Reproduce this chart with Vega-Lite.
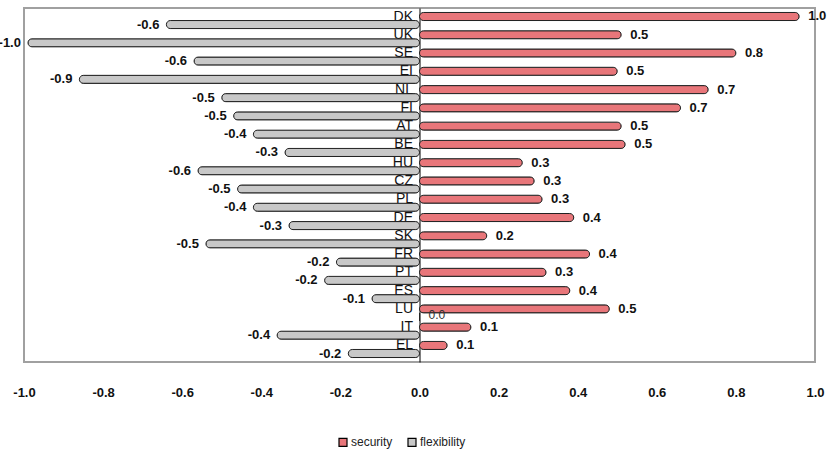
{
  "$schema": "https://vega.github.io/schema/vega-lite/v6.json",
  "width": 791,
  "height": 354,
  "autosize": {"type": "none"},
  "padding": {"left": 24, "top": 8, "right": 18, "bottom": 104},
  "background": "white",
  "config": {
    "view": {"stroke": "#a0a0a0", "strokeWidth": 2},
    "font": "Liberation Sans",
    "locale": {
      "number": {"decimal": ".", "thousands": ",", "grouping": [3], "currency": ["$", ""], "minus": "-"}
    }
  },
  "data": {
    "values": [
      {"country": "DK", "series": "security", "value": 0.96},
      {"country": "UK", "series": "security", "value": 0.51},
      {"country": "SE", "series": "security", "value": 0.8},
      {"country": "EI", "series": "security", "value": 0.5},
      {"country": "NL", "series": "security", "value": 0.73},
      {"country": "FI", "series": "security", "value": 0.66},
      {"country": "AT", "series": "security", "value": 0.51},
      {"country": "BE", "series": "security", "value": 0.52},
      {"country": "HU", "series": "security", "value": 0.26},
      {"country": "CZ", "series": "security", "value": 0.29},
      {"country": "PL", "series": "security", "value": 0.31},
      {"country": "DE", "series": "security", "value": 0.39},
      {"country": "SK", "series": "security", "value": 0.17},
      {"country": "FR", "series": "security", "value": 0.43},
      {"country": "PT", "series": "security", "value": 0.32},
      {"country": "ES", "series": "security", "value": 0.38},
      {"country": "LU", "series": "security", "value": 0.48},
      {"country": "IT", "series": "security", "value": 0.13},
      {"country": "EL", "series": "security", "value": 0.07},
      {"country": "DK", "series": "flexibility", "value": -0.64},
      {"country": "UK", "series": "flexibility", "value": -0.99},
      {"country": "SE", "series": "flexibility", "value": -0.57},
      {"country": "EI", "series": "flexibility", "value": -0.86},
      {"country": "NL", "series": "flexibility", "value": -0.5},
      {"country": "FI", "series": "flexibility", "value": -0.47},
      {"country": "AT", "series": "flexibility", "value": -0.42},
      {"country": "BE", "series": "flexibility", "value": -0.34},
      {"country": "HU", "series": "flexibility", "value": -0.56},
      {"country": "CZ", "series": "flexibility", "value": -0.46},
      {"country": "PL", "series": "flexibility", "value": -0.42},
      {"country": "DE", "series": "flexibility", "value": -0.33},
      {"country": "SK", "series": "flexibility", "value": -0.54},
      {"country": "FR", "series": "flexibility", "value": -0.21},
      {"country": "PT", "series": "flexibility", "value": -0.24},
      {"country": "ES", "series": "flexibility", "value": -0.12},
      {"country": "LU", "series": "flexibility", "value": 0.0},
      {"country": "IT", "series": "flexibility", "value": -0.36},
      {"country": "EL", "series": "flexibility", "value": -0.18}
    ]
  },
  "encoding": {
    "y": {
      "field": "country",
      "type": "nominal",
      "sort": null,
      "scale": {"paddingInner": 0.12, "paddingOuter": 0.245},
      "axis": {
        "title": null,
        "orient": "left",
        "offset": -395.5,
        "ticks": false,
        "domain": true,
        "domainColor": "#000000",
        "domainWidth": 1,
        "labelFontSize": 14,
        "labelColor": "#111111",
        "labelPadding": 7,
        "labelOffset": -4,
        "grid": false
      }
    },
    "yOffset": {
      "field": "series",
      "type": "nominal",
      "sort": ["security", "flexibility"]
    },
    "x": {
      "field": "value",
      "type": "quantitative",
      "scale": {"domain": [-1, 1], "nice": false, "zero": false},
      "axis": {
        "title": null,
        "values": [-1, -0.8, -0.6, -0.4, -0.2, 0, 0.2, 0.4, 0.6, 0.8, 1],
        "format": ".1f",
        "grid": false,
        "ticks": false,
        "domain": false,
        "labelFontSize": 13,
        "labelFontWeight": "bold",
        "labelColor": "#111111",
        "labelPadding": 24,
        "labelFlush": false
      }
    }
  },
  "layer": [
    {
      "mark": {"type": "bar", "cornerRadius": 4, "stroke": "#222222", "strokeWidth": 1},
      "encoding": {
        "color": {
          "field": "series",
          "type": "nominal",
          "scale": {"domain": ["security", "flexibility"], "range": ["#e8767a", "#c8c8c8"]},
          "legend": {
            "title": null,
            "orient": "none",
            "direction": "horizontal",
            "legendX": 313,
            "legendY": 428,
            "symbolType": "square",
            "symbolSize": 64,
            "symbolStrokeColor": "#000000",
            "symbolStrokeWidth": 1.2,
            "labelFontSize": 12,
            "labelColor": "#222222",
            "labelOffset": 2,
            "columnPadding": 12
          }
        }
      }
    },
    {
      "transform": [{"filter": "datum.series == 'security'"}],
      "mark": {"type": "text", "align": "left", "dx": 9, "fontSize": 13, "fontWeight": "bold", "fill": "#111111"},
      "encoding": {"text": {"field": "value", "type": "quantitative", "format": ".1f"}}
    },
    {
      "transform": [{"filter": "datum.series == 'flexibility' && datum.value < 0"}],
      "mark": {"type": "text", "align": "right", "dx": -7, "fontSize": 13, "fontWeight": "bold", "fill": "#111111"},
      "encoding": {"text": {"field": "value", "type": "quantitative", "format": ".1f"}}
    },
    {
      "transform": [{"filter": "datum.series == 'flexibility' && datum.value >= 0"}],
      "mark": {"type": "text", "align": "left", "dx": 9, "dy": -2, "fontSize": 12, "fill": "#333333"},
      "encoding": {"text": {"field": "value", "type": "quantitative", "format": ".1f"}}
    }
  ]
}
